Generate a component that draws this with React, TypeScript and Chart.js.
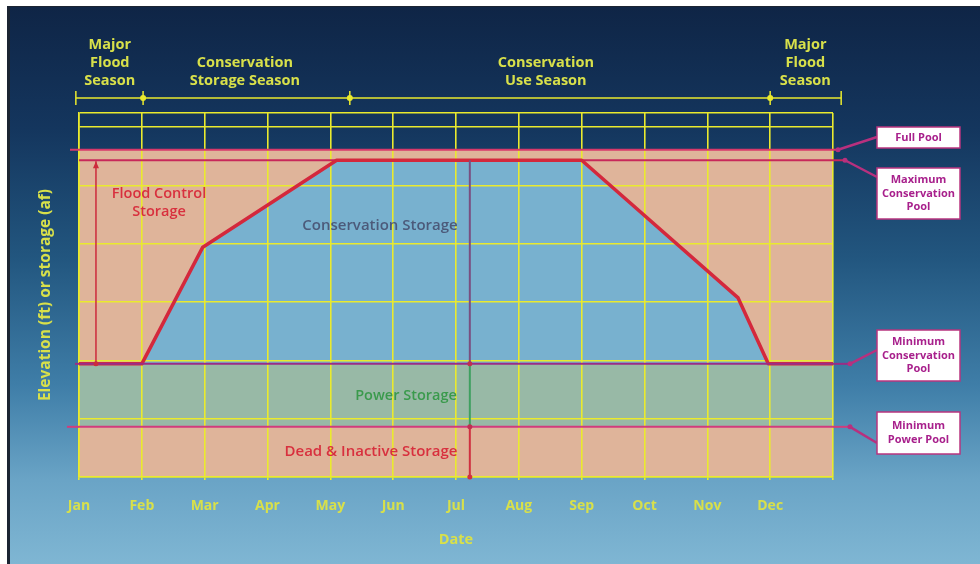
import React, { useEffect, useRef } from 'react';
import { Chart, registerables } from 'chart.js';

Chart.register(...registerables);

// ---------- data ----------
const months = ['Jan', 'Feb', 'Mar', 'Apr', 'May', 'Jun', 'Jul', 'Aug', 'Sep', 'Oct', 'Nov', 'Dec'];
const ruleCurveMonth = [0, 1, 1.97, 4.1, 8.0, 10.49, 10.97, 12];
const ruleCurveLevel = [1.94, 1.94, 3.94, 5.43, 5.43, 3.07, 1.94, 1.94];
const fullPool = 5.61;
const maxConservationPool = 5.43;
const minConservationPool = 1.94;
const minPowerPool = 0.86;
const levelMax = 6.24;
const seasonBounds = [-0.05, 1.02, 4.31, 11.0, 12.13];
const seasonNames = [
  ['Major', 'Flood', 'Season'],
  ['Conservation', 'Storage Season'],
  ['Conservation', 'Use Season'],
  ['Major', 'Flood', 'Season'],
];
const seasonCenters = [0.49, 2.64, 7.43, 11.56];
const poolNames = [
  ['Full Pool'],
  ['Maximum', 'Conservation', 'Pool'],
  ['Minimum', 'Conservation', 'Pool'],
  ['Minimum', 'Power Pool'],
];
const zoneLabels = [
  ['Flood Control', 'Storage'],
  ['Conservation Storage'],
  ['Power Storage'],
  ['Dead & Inactive Storage'],
];
const zoneArrowMonth = [0.27, 6.22];
const yTitle = 'Elevation (ft) or storage (af)';
const xTitle = 'Date';

// ---------- styles ----------
const YELLOW = '#eaea2e';
const YTEXT = '#d8e04a';
const PEACH = '#dfb49a';
const BLUE = '#78b1cf';
const GREEN = '#98b9a6';
const FONT = '"Open Sans", "DejaVu Sans", sans-serif';

const flat = (lv: number) => [{ x: 0, y: lv }, { x: 12, y: lv }];

const decorPlugin = {
  id: 'decor',
  afterDraw(chart: any) {
    const { ctx, chartArea: ca, scales } = chart;
    const X = (v: number) => scales.x.getPixelForValue(v);
    const Y = (v: number) => scales.y.getPixelForValue(v);
    const seg = (x1: number, y1: number, x2: number, y2: number) => {
      ctx.beginPath();
      ctx.moveTo(x1, y1);
      ctx.lineTo(x2, y2);
      ctx.stroke();
    };
    const dot = (cx: number, cy: number, r: number) => {
      ctx.beginPath();
      ctx.arc(cx, cy, r, 0, Math.PI * 2);
      ctx.fill();
    };
    ctx.save();

    // season bar
    const barY = ca.top - 15;
    const last = seasonBounds.length - 1;
    ctx.strokeStyle = YELLOW;
    ctx.fillStyle = YELLOW;
    ctx.lineWidth = 1.5;
    seg(X(seasonBounds[0]), barY, X(seasonBounds[last]), barY);
    seasonBounds.forEach((b, i) => {
      const px = X(b);
      seg(px, barY - 7, px, barY + 7);
      if (i !== 0 && i !== last) dot(px, barY, 3);
    });
    ctx.fillStyle = YTEXT;
    ctx.font = `bold 14.5px ${FONT}`;
    ctx.textAlign = 'center';
    ctx.textBaseline = 'middle';
    seasonNames.forEach((lines, i) => {
      lines.forEach((t, j) => {
        ctx.fillText(t, X(seasonCenters[i]), barY - 17 - (lines.length - 1 - j) * 18);
      });
    });

    // pool line extensions, connectors and callout boxes
    const callouts = [
      { level: fullPool, leftX: 70, endX: 838, boxY: 127, boxH: 21, connY: 137, color: '#d8386a' },
      { level: maxConservationPool, leftX: ca.left, endX: 845, boxY: 168, boxH: 51, connY: 177, color: '#c8285a' },
      { level: minConservationPool, leftX: 75, endX: 850, boxY: 330, boxH: 51, connY: 350, color: '#9a2c86' },
      { level: minPowerPool, leftX: 67, endX: 850, boxY: 412, boxH: 42, connY: 443, color: '#d23c7c' },
    ];
    const boxX = 877;
    const boxW = 83;
    callouts.forEach((c, i) => {
      const py = Y(c.level);
      ctx.strokeStyle = c.color;
      ctx.lineWidth = 2;
      seg(c.leftX, py, ca.left, py);
      seg(ca.right, py, c.endX, py);
      ctx.strokeStyle = '#b8307e';
      ctx.lineWidth = 2.5;
      seg(c.endX, py, boxX, c.connY);
      ctx.fillStyle = '#b8307e';
      dot(c.endX, py, 2.5);
      ctx.fillStyle = '#ffffff';
      ctx.fillRect(boxX, c.boxY, boxW, c.boxH);
      ctx.lineWidth = 1.5;
      ctx.strokeStyle = '#b8347f';
      ctx.strokeRect(boxX, c.boxY, boxW, c.boxH);
      ctx.fillStyle = '#a8208c';
      ctx.font = `bold 11px ${FONT}`;
      const lines = poolNames[i];
      const mid = c.boxY + c.boxH / 2;
      lines.forEach((t, j) => {
        ctx.fillText(t, boxX + boxW / 2, mid + (j - (lines.length - 1) / 2) * 13.5);
      });
    });

    // zone arrows
    const ax1 = X(zoneArrowMonth[0]);
    ctx.strokeStyle = '#cc2a3c';
    ctx.fillStyle = '#cc2a3c';
    ctx.lineWidth = 1.5;
    seg(ax1, Y(maxConservationPool) + 1, ax1, Y(minConservationPool));
    ctx.beginPath();
    ctx.moveTo(ax1, Y(maxConservationPool) + 1);
    ctx.lineTo(ax1 - 3, Y(maxConservationPool) + 8);
    ctx.lineTo(ax1 + 3, Y(maxConservationPool) + 8);
    ctx.closePath();
    ctx.fill();
    dot(ax1, Y(minConservationPool), 2.5);

    const ax2 = X(zoneArrowMonth[1]);
    ctx.lineWidth = 2;
    ctx.strokeStyle = '#7a4f80';
    seg(ax2, Y(maxConservationPool), ax2, Y(minConservationPool));
    ctx.strokeStyle = '#3fa060';
    seg(ax2, Y(minConservationPool), ax2, Y(minPowerPool));
    ctx.strokeStyle = '#d03040';
    seg(ax2, Y(minPowerPool), ax2, Y(0));
    ctx.fillStyle = '#c03050';
    dot(ax2, Y(minConservationPool), 2.5);
    dot(ax2, Y(minPowerPool), 2.5);
    ctx.fillStyle = '#d03040';
    dot(ax2, Y(0), 2.5);

    // zone labels
    ctx.font = `600 14.5px ${FONT}`;
    ctx.fillStyle = '#d8303e';
    ctx.fillText(zoneLabels[0][0], 159, 194);
    ctx.fillText(zoneLabels[0][1], 159, 212);
    ctx.fillStyle = '#4c5a7a';
    ctx.font = `600 15px ${FONT}`;
    ctx.fillText(zoneLabels[1][0], 380, 226);
    ctx.font = `600 14.5px ${FONT}`;
    ctx.fillStyle = '#3a9a4c';
    ctx.fillText(zoneLabels[2][0], 406, 396);
    ctx.font = `600 15px ${FONT}`;
    ctx.fillStyle = '#d8303e';
    ctx.fillText(zoneLabels[3][0], 371, 452);

    ctx.restore();
  },
};

export default function App() {
  const ref = useRef<HTMLCanvasElement>(null);

  useEffect(() => {
    document.body.style.margin = '0';
    const ruleCurve = ruleCurveMonth.map((m, i) => ({ x: m, y: ruleCurveLevel[i] }));
    const chart = new Chart(ref.current as HTMLCanvasElement, {
      type: 'line',
      data: {
        datasets: [
          { label: 'Minimum Power Pool', data: flat(minPowerPool), borderColor: '#d23c7c', borderWidth: 2, backgroundColor: PEACH, fill: 'origin' },
          { label: 'Minimum Conservation Pool', data: flat(minConservationPool), borderColor: '#9a2c86', borderWidth: 2, backgroundColor: GREEN, fill: { value: minPowerPool } },
          { label: 'Rule Curve', data: ruleCurve, borderColor: '#d4283c', borderWidth: 3.5, backgroundColor: BLUE, fill: '-1' },
          { label: 'Maximum Conservation Pool', data: flat(maxConservationPool), borderColor: '#c8285a', borderWidth: 2, fill: false },
          { label: 'Full Pool', data: flat(fullPool), borderColor: '#d8386a', borderWidth: 2, backgroundColor: PEACH, fill: { target: 2 } },
        ] as any,
      },
      options: {
        animation: false,
        responsive: false,
        events: [],
        layout: { padding: { left: 0, top: 113, right: 147, bottom: 0 } },
        elements: { point: { radius: 0 }, line: { tension: 0, borderJoinStyle: 'round' } },
        plugins: {
          legend: { display: false },
          tooltip: { enabled: false },
          filler: { drawTime: 'beforeDraw' },
        } as any,
        scales: {
          x: {
            type: 'linear',
            min: 0,
            max: 12,
            ticks: {
              stepSize: 1,
              autoSkip: false,
              maxRotation: 0,
              color: YTEXT,
              padding: 18,
              font: { family: FONT, size: 14, weight: 'bold' },
              callback: (v: any) => months[v] ?? '',
            },
            grid: { color: YELLOW, lineWidth: 1.6, tickLength: 3 },
            border: { color: YELLOW, width: 1.6 },
            title: {
              display: true,
              text: xTitle,
              color: YTEXT,
              font: { family: FONT, size: 14.5, weight: 'bold' },
              padding: { top: 15.6, bottom: 15.6 },
            },
            afterFit: (s: any) => { s.height = 87; },
          },
          y: {
            type: 'linear',
            min: 0,
            max: levelMax,
            ticks: { stepSize: 1, display: false },
            grid: { color: YELLOW, lineWidth: 1.6, drawTicks: false },
            border: { color: YELLOW, width: 1.6 },
            title: {
              display: true,
              text: yTitle,
              color: YTEXT,
              font: { family: FONT, size: 15.5, weight: 'bold' },
              padding: { top: 36, bottom: 0 },
            },
            afterFit: (s: any) => { s.width = 79; },
          },
        } as any,
      },
      plugins: [decorPlugin],
    });
    return () => chart.destroy();
  }, []);

  return (
    <div style={{ position: 'fixed', left: 0, top: 0, width: 980, height: 564, background: '#ffffff', overflow: 'hidden' }}>
      <div
        style={{
          position: 'absolute',
          left: 7,
          top: 6,
          right: 0,
          bottom: 0,
          borderLeft: '3px solid #1b2433',
          borderTop: '1px solid #1b2433',
          background: 'linear-gradient(180deg, #0f2546 0%, #14365e 22%, #22567f 45%, #3f7ea8 68%, #6aa4c6 85%, #7fb6d3 100%)',
        }}
      />
      <canvas ref={ref} width={980} height={564} style={{ position: 'absolute', left: 0, top: 0, width: 980, height: 564 }} />
    </div>
  );
}
